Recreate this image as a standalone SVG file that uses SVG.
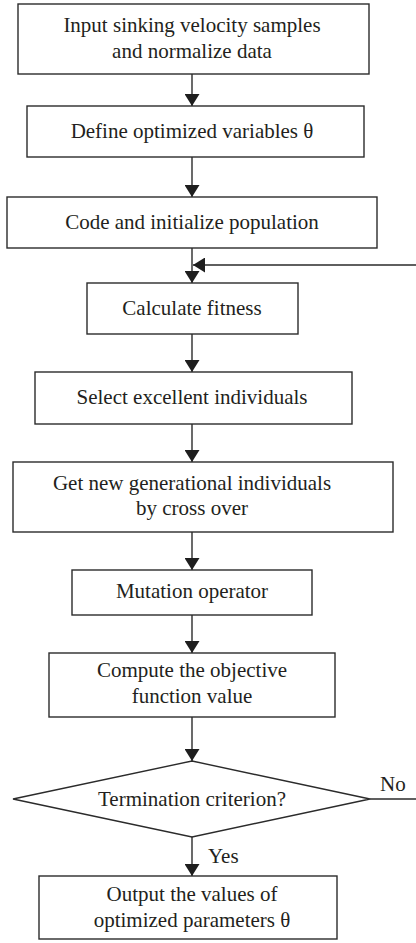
<svg xmlns="http://www.w3.org/2000/svg" width="416" height="943" viewBox="0 0 416 943">
<style>
.box{fill:#fff;stroke:#2b2b2b;stroke-width:1.4}
.t{font-family:"Liberation Serif","Times New Roman",serif;font-size:21px;fill:#231f20;text-anchor:middle}
.l{font-family:"Liberation Serif","Times New Roman",serif;font-size:21px;fill:#231f20}
.c{fill:none;stroke:#2b2b2b;stroke-width:1.4}
</style>
<defs>
<marker id="ah" markerWidth="12" markerHeight="15" refX="12" refY="7.5" orient="auto" markerUnits="userSpaceOnUse" viewBox="0 0 12 15">
<path d="M0,0 L12,7.5 L0,15 Z" fill="#1e1e1e"/>
</marker>
</defs>
<g id="connectors">
<line class="c" x1="192" y1="74" x2="192" y2="106" marker-end="url(#ah)"/>
<line class="c" x1="192" y1="157" x2="192" y2="197" marker-end="url(#ah)"/>
<line class="c" x1="192" y1="248" x2="192" y2="283" marker-end="url(#ah)"/>
<line class="c" x1="192" y1="334" x2="192" y2="372" marker-end="url(#ah)"/>
<line class="c" x1="192" y1="424" x2="192" y2="462" marker-end="url(#ah)"/>
<line class="c" x1="192" y1="532" x2="192" y2="570" marker-end="url(#ah)"/>
<line class="c" x1="192" y1="615" x2="192" y2="653" marker-end="url(#ah)"/>
<line class="c" x1="192" y1="717" x2="192" y2="761" marker-end="url(#ah)"/>
<line class="c" x1="192" y1="837" x2="192" y2="876" marker-end="url(#ah)"/>
<path class="c" d="M370,799 L420,799 L420,265 L193,265" marker-end="url(#ah)"/>
<text class="l" x="380" y="791">No</text>
<text class="l" x="208" y="863">Yes</text>
</g>
<g id="n1"><rect class="box" x="18" y="4" width="351" height="70"/><text class="t" x="192" y="32">Input sinking velocity samples</text><text class="t" x="192" y="58">and normalize data</text></g>
<g id="n2"><rect class="box" x="27" y="106" width="337" height="51"/><text class="t" x="192" y="138">Define optimized variables θ</text></g>
<g id="n3"><rect class="box" x="7" y="197" width="370" height="51"/><text class="t" x="192" y="229">Code and initialize population</text></g>
<g id="n4"><rect class="box" x="87" y="283" width="211" height="51"/><text class="t" x="192" y="315">Calculate fitness</text></g>
<g id="n5"><rect class="box" x="35" y="372" width="317" height="52"/><text class="t" x="192" y="404">Select excellent individuals</text></g>
<g id="n6"><rect class="box" x="13" y="462" width="380" height="70"/><text class="t" x="192" y="490">Get new generational individuals</text><text class="t" x="192" y="515">by cross over</text></g>
<g id="n7"><rect class="box" x="72" y="570" width="240" height="45"/><text class="t" x="192" y="598">Mutation operator</text></g>
<g id="n8"><rect class="box" x="49" y="653" width="286" height="64"/><text class="t" x="192" y="677">Compute the objective</text><text class="t" x="192" y="703">function value</text></g>
<g id="n9"><polygon class="box" points="192,761 370,799 192,837 13,799"/><text class="t" x="192" y="806">Termination criterion?</text></g>
<g id="n10"><rect class="box" x="39" y="876" width="298" height="63"/><text class="t" x="192" y="901">Output the values of</text><text class="t" x="192" y="927">optimized parameters θ</text></g>
</svg>
